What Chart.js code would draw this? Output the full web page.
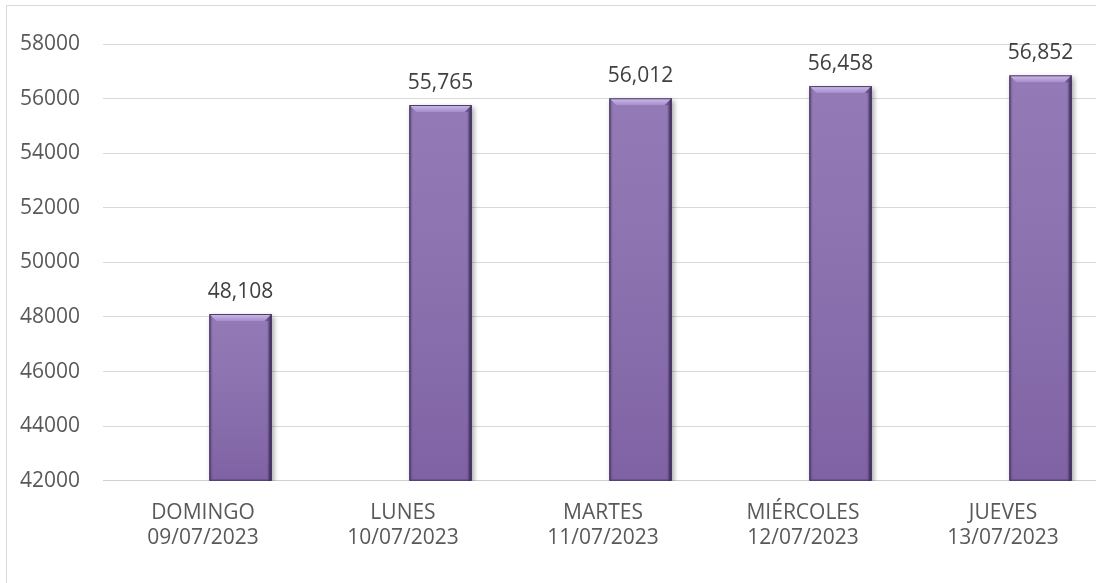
<!DOCTYPE html>
<html>
<head>
<meta charset="utf-8">
<script src="https://cdn.jsdelivr.net/npm/chart.js@4"></script>
<style>
html,body{margin:0;background:#fff;overflow:hidden;width:1096px;height:583px}
#marco{position:absolute;left:6px;top:5px;width:1110px;height:600px;border:1px solid #d9d9d9;background:#fff}
</style>
</head>
<body>
<div id="marco"><canvas id="grafico" width="1110" height="600"></canvas></div>
<script>
/* DATOS */
const dias=['DOMINGO','LUNES','MARTES','MIÉRCOLES','JUEVES'];
const fechas=['09/07/2023','10/07/2023','11/07/2023','12/07/2023','13/07/2023'];
const totales=[48108,55765,56012,56458,56852];
const vacia=[null,null,null,null,null]; // serie sin valores, deja el hueco a la izquierda
const yMin=42000, yMax=58000, yPaso=2000;

const fuente='"Open Sans", "Noto Sans", sans-serif';

/* relieve de las barras: sombra, degradado y bisel superior */
const relieve={
  id:'relieve',
  beforeDatasetDraw(chart,args){
    if(args.index!==1)return;
    const c=chart.ctx;
    c.save();
    c.shadowColor='rgba(0,0,0,0.35)';
    c.shadowBlur=5;
    c.shadowOffsetX=2;
    c.shadowOffsetY=2;
  },
  afterDatasetDraw(chart,args){
    if(args.index!==1)return;
    const c=chart.ctx;
    c.restore();
    const fondo=chart.chartArea.bottom;
    args.meta.data.forEach(bar=>{
      const l=bar.x-bar.width/2, r=bar.x+bar.width/2, t=bar.y, b=Math.min(bar.base,fondo), w=r-l;
      c.save();
      // claro arriba, oscuro abajo
      let g=c.createLinearGradient(0,t,0,b);
      g.addColorStop(0,'rgba(255,255,255,0.08)');
      g.addColorStop(1,'rgba(40,10,80,0.12)');
      c.fillStyle=g;
      c.fillRect(l,t,w,b-t);
      // bordes laterales oscuros
      g=c.createLinearGradient(l,0,r,0);
      g.addColorStop(0,'rgba(40,25,70,0.35)');
      g.addColorStop(0.06,'rgba(40,25,70,0)');
      g.addColorStop(0.92,'rgba(40,25,70,0)');
      g.addColorStop(1,'rgba(30,20,50,0.55)');
      c.fillStyle=g;
      c.fillRect(l,t,w,b-t);
      // bisel superior
      const d=7;
      c.beginPath();
      c.moveTo(l,t);c.lineTo(r,t);c.lineTo(r-d,t+d);c.lineTo(l+d,t+d);c.closePath();
      g=c.createLinearGradient(0,t,0,t+d);
      g.addColorStop(0,'#cdbde9');
      g.addColorStop(1,'#a48dcc');
      c.fillStyle=g;
      c.fill();
      // bisel derecho, más oscuro
      c.beginPath();
      c.moveTo(r,t);c.lineTo(r,b);c.lineTo(r-3,b);c.lineTo(r-3,t+d);c.lineTo(r-d,t+d);c.closePath();
      c.fillStyle='rgba(50,35,80,0.35)';
      c.fill();
      // contorno
      c.strokeStyle='rgba(55,40,80,0.85)';
      c.lineWidth=1;
      c.strokeRect(l+0.5,t+0.5,w-1,b-t-1);
      c.restore();
    });
  }
};

/* etiquetas de valor encima de cada barra */
const etiquetas={
  id:'etiquetas',
  afterDatasetsDraw(chart){
    const c=chart.ctx;
    const meta=chart.getDatasetMeta(1);
    c.save();
    c.font='21px '+fuente;
    c.fillStyle='#404040';
    c.textAlign='center';
    c.textBaseline='alphabetic';
    meta.data.forEach((bar,i)=>{
      c.fillText(totales[i].toLocaleString('en-US'),bar.x,bar.y-16);
    });
    c.restore();
  }
};

new Chart(document.getElementById('grafico'),{
  type:'bar',
  data:{
    labels:dias.map((d,i)=>[d,fechas[i]]),
    datasets:[
      {label:'',data:vacia,backgroundColor:'transparent'},
      {label:'Total',data:totales,backgroundColor:'#8a6eaf',borderWidth:0}
    ]
  },
  options:{
    responsive:false,
    animation:false,
    categoryPercentage:0.75,
    barPercentage:0.83,
    layout:{padding:{top:38,right:14,left:0,bottom:0}},
    plugins:{legend:{display:false},tooltip:{enabled:false}},
    scales:{
      x:{
        grid:{display:false},
        border:{color:'#d0d0d0',width:1},
        ticks:{color:'#595959',font:{family:fuente,size:21,lineHeight:1.19},padding:12,maxRotation:0},
        afterFit(s){s.height=125.3;}
      },
      y:{
        min:yMin,max:yMax,
        grid:{color:'#d9d9d9',lineWidth:1,drawTicks:false},
        border:{display:false},
        ticks:{stepSize:yPaso,color:'#595959',font:{family:fuente,size:21},padding:23,callback:v=>String(v)},
        afterFit(s){s.width=96;}
      }
    }
  },
  plugins:[relieve,etiquetas]
});
</script>
</body>
</html>
